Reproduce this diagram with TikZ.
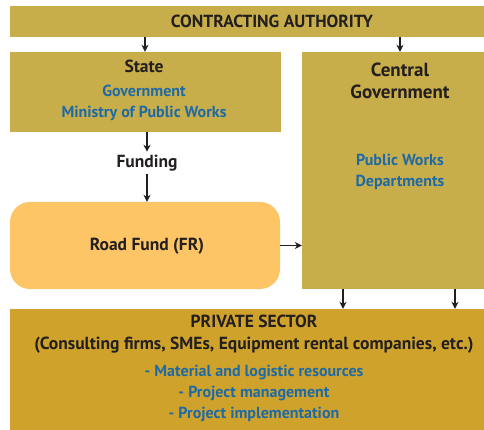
\documentclass[tikz,border=0pt]{standalone}
\usepackage{fontspec}
\setmainfont{PT Sans}
\usetikzlibrary{arrows.meta}
\definecolor{olive}{HTML}{C8AE4A}
\definecolor{roadfill}{HTML}{FDC566}
\definecolor{privfill}{HTML}{CFA32B}
\definecolor{bluetxt}{HTML}{1F6AA5}
\definecolor{darktxt}{HTML}{231F20}
\tikzset{
  box/.style={draw=none, inner sep=0pt, minimum width=#1},
  dk/.style={text=darktxt, font=\bfseries\fontsize{17.5}{21}\selectfont, inner sep=0pt},
  bl/.style={text=bluetxt, font=\bfseries\fontsize{16}{21}\selectfont, inner sep=0pt, align=center},
  arr/.style={draw=darktxt, line width=1.5pt, -{Stealth[length=7pt,width=7pt]}},
}
\begin{document}
\begin{tikzpicture}[x=1pt,y=-1pt]
\useasboundingbox (0,0) rectangle (484,430);
\node[box=474, minimum height=31, fill=olive] (top) at (247,21.5) {};
\node[box=271, minimum height=80, fill=olive] (state) at (145.5,92) {};
\node[box=182, minimum height=237, fill=olive] (central) at (393,170.5) {};
\node[box=270, minimum height=87, fill=roadfill, rounded corners=20pt] (road) at (145,245.5) {};
\node[box=474, minimum height=121, fill=privfill] (private) at (247,369.5) {};

\node[dk] (ttop) at (272,21) {CONTRACTING AUTHORITY};
\node[dk] (tstate) at (144,66) {State};
\node[bl] (tstateb) at (144,102.5) {Government\\Ministry of Public Works};
\node[dk, align=center, font=\bfseries\fontsize{19}{22}\selectfont] (tcentral) at (400,81) {Central\\Government};
\node[bl] (tcentralb) at (400,171.5) {Public Works\\Departments};
\node[dk, inner sep=3pt] (funding) at (147,163) {Funding};
\node[dk] (troad) at (147,246) {Road Fund (FR)};
\node[dk] (tpriv) at (254,321) {PRIVATE SECTOR};
\node[dk] (tpriv2) at (254,345) {(Consulting firms, SMEs, Equipment rental companies, etc.)};
\node[bl] (tpriv3) at (254,393) {- Material and logistic resources\\- Project management\\- Project implementation};

\coordinate (xa) at (145,0);
\coordinate (xb) at (400,0);
\coordinate (xc) at (343,0);
\coordinate (xd) at (455,0);
\coordinate (xf) at (147,0);
\draw[arr] (top.south -| xa) -- (state.north -| xa);
\draw[arr] (top.south -| xb) -- (central.north -| xb);
\draw[arr] (state.south -| xf) -- (funding.north);
\draw[arr] (funding.south) -- (road.north -| xf);
\draw[arr] (road.east) -- (road.east -| central.west);
\draw[arr] (central.south -| xc) -- (private.north -| xc);
\draw[arr] (central.south -| xd) -- (private.north -| xd);
\end{tikzpicture}
\end{document}
